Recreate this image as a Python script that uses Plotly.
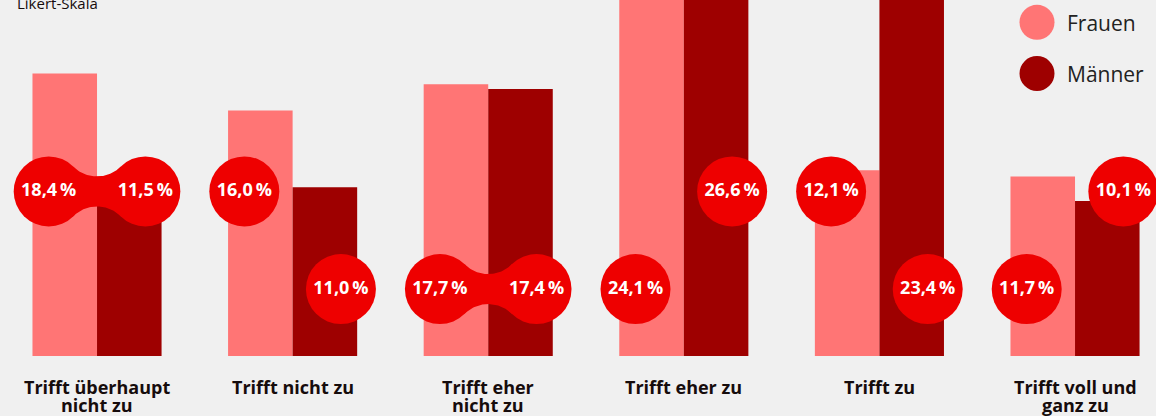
import numpy as np
import plotly.graph_objects as go

# ---------------- data ----------------
categories = [
    ["Trifft überhaupt", "nicht zu"],
    ["Trifft nicht zu"],
    ["Trifft eher", "nicht zu"],
    ["Trifft eher zu"],
    ["Trifft zu"],
    ["Trifft voll und", "ganz zu"],
]
frauen = [18.4, 16.0, 17.7, 24.1, 12.1, 11.7]
maenner = [11.5, 11.0, 17.4, 26.6, 23.4, 10.1]
series_names = ["Frauen", "Männer"]
axis_note = "Likert-Skala"

# label placement (layout, not data)
level_f = ["hi", "hi", "lo", "lo", "hi", "lo"]
level_m = ["hi", "lo", "lo", "hi", "lo", "hi"]

# ---------------- layout constants ----------------
W, H = 1156, 416
MB = 60
PLOT_W, PLOT_H = W, H - MB
X_RANGE = [-0.496, 5.414]
Y_RANGE = [0, 23.19]
PXX = PLOT_W / (X_RANGE[1] - X_RANGE[0])
PXY = PLOT_H / (Y_RANGE[1] - Y_RANGE[0])
LEVEL = {"hi": 10.72, "lo": 4.36}
DX = 0.247
R_C = 35.0      # circle radius in px
NECK = 15.0     # half neck height in px

C_F = "#ff7575"
C_M = "#9e0000"
C_DOT = "#ee0000"
BG = "#f0f0f0"
TXT = "#160c0c"
FONT = "Open Sans"

def fmt(v):
    return f"{v:.1f}".replace(".", ",") + "\u2009%"

xs = list(range(len(categories)))
fig = go.Figure()
fig.add_trace(go.Bar(x=xs, y=frauen, name=series_names[0], marker=dict(color=C_F, line=dict(width=0)),
                     showlegend=False, hoverinfo="skip"))
fig.add_trace(go.Bar(x=xs, y=maenner, name=series_names[1], marker=dict(color=C_M, line=dict(width=0)),
                     showlegend=False, hoverinfo="skip"))

# bridges between neighbouring circles on the same level
a = DX * PXX
Rb = (a * a + NECK * NECK - R_C * R_C) / (2 * (R_C - NECK))
cyb = NECK + Rb
for i in xs:
    if level_f[i] != level_m[i]:
        continue
    lv = LEVEL[level_f[i]]
    d = np.hypot(a, cyb)
    tx = -a + R_C * a / d
    ty = R_C * cyb / d
    th0 = np.arctan2(ty - cyb, tx)
    th1 = np.arctan2(ty - cyb, -tx)
    th = np.linspace(th0, th1 + (2 * np.pi if th1 < th0 else 0), 40)
    ax_ = Rb * np.cos(th)
    ay_ = cyb + Rb * np.sin(th)
    px = np.concatenate([ax_, [a], ax_[::-1], [-a]])
    py = np.concatenate([ay_, [0], -ay_[::-1], [0]])
    fig.add_trace(go.Scatter(x=i + px / PXX, y=lv + py / PXY, mode="lines", fill="toself",
                             fillcolor=C_DOT, line=dict(width=0, color=C_DOT),
                             showlegend=False, hoverinfo="skip"))

cx = [i - DX for i in xs] + [i + DX for i in xs]
cy = [LEVEL[l] for l in level_f] + [LEVEL[l] for l in level_m]
ct = [fmt(v) for v in frauen] + [fmt(v) for v in maenner]
fig.add_trace(go.Scatter(x=cx, y=cy, mode="markers+text", text=ct, textposition="middle center",
                         textfont=dict(family=FONT, size=18, color="white", weight="bold"),
                         marker=dict(size=2 * R_C, color=C_DOT, line=dict(width=0)),
                         showlegend=False, hoverinfo="skip", cliponaxis=False))

def py_paper(pix):
    return 1 - pix / PLOT_H

annotations = []
line_y = [387.3, 405.2]
for i, lines in enumerate(categories):
    for j, t in enumerate(lines):
        annotations.append(dict(x=i, xref="x", y=py_paper(line_y[j]), yref="paper", text=t,
                                showarrow=False, xanchor="center", yanchor="middle",
                                font=dict(family=FONT, size=18, color=TXT, weight="bold")))
annotations.append(dict(x=15 / W, xref="paper", y=py_paper(2.5), yref="paper", text=axis_note,
                        showarrow=False, xanchor="left", yanchor="middle",
                        font=dict(family=FONT, size=15, color=TXT)))
shapes = []
leg_y = [22.3, 73.5]
for k, (nm, col) in enumerate(zip(series_names, [C_F, C_M])):
    shapes.append(dict(type="circle", xref="paper", yref="paper", xsizemode="pixel", ysizemode="pixel",
                       xanchor=1037 / W, yanchor=py_paper(leg_y[k]), x0=-17.5, x1=17.5, y0=-17.5, y1=17.5,
                       fillcolor=col, line=dict(width=0), layer="above"))
    annotations.append(dict(x=1065 / W, xref="paper", y=py_paper(leg_y[k] + 0.3), yref="paper", text=nm,
                            showarrow=False, xanchor="left", yanchor="middle",
                            font=dict(family=FONT, size=21, color="#222222")))

fig.update_layout(
    width=W, height=H, margin=dict(l=0, r=0, t=0, b=MB, pad=0),
    paper_bgcolor=BG, plot_bgcolor=BG,
    barmode="group", bargap=0.34, bargroupgap=0,
    xaxis=dict(range=X_RANGE, showticklabels=False, showgrid=False, zeroline=False, ticks="", fixedrange=True),
    yaxis=dict(range=Y_RANGE, showticklabels=False, showgrid=False, zeroline=False, ticks="", fixedrange=True),
    annotations=annotations, shapes=shapes, showlegend=False,
)
fig.write_html("out.html", config={"displayModeBar": False},
               post_script="document.body.style.margin='0';document.body.style.overflow='hidden';")
